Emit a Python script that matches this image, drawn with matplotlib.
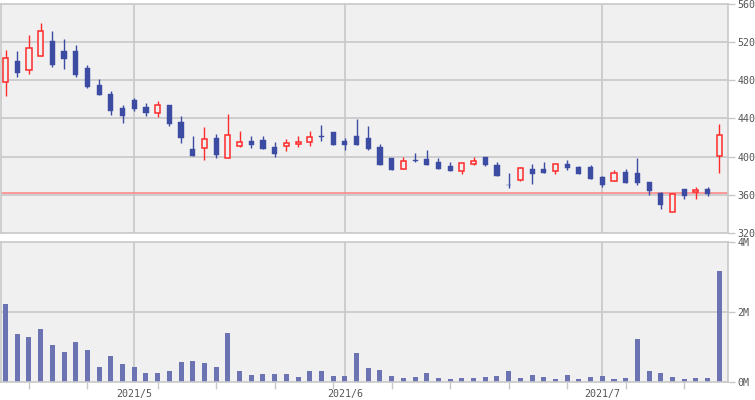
import matplotlib
matplotlib.use("Agg")
import matplotlib.pyplot as plt
import numpy as np
import pandas as pd

dates = pd.bdate_range("2021-04-15", "2021-07-15")
holidays = pd.to_datetime(["2021-04-29", "2021-05-03", "2021-05-04", "2021-05-05"])
dates = [d for d in dates if d not in holidays]

opens = [478.6, 500.4, 490.5, 505.3, 521.4, 510.9, 510.9, 493.0, 475.1, 465.6,
         450.9, 459.3, 451.9, 446.0, 454.0, 436.1, 407.7, 409.5, 419.3, 399.0,
         411.6, 416.1, 417.2, 409.8, 411.6, 413.3, 415.4, 421.8, 425.6, 416.1,
         421.4, 419.3, 409.8, 398.2, 387.0, 396.0, 397.2, 394.0, 389.8, 384.9,
         392.3, 399.3, 391.2, 370.6, 375.1, 387.0, 387.0, 385.3, 392.3, 389.1,
         389.1, 378.2, 374.7, 383.5, 382.5, 373.0, 361.4, 342.1, 365.6, 362.8,
         365.6, 401.0]
highs = [511.9, 510.9, 527.7, 540.0, 531.9, 523.5, 517.2, 496.1, 481.1, 468.4,
         454.0, 461.4, 456.1, 458.2, 454.0, 442.5, 421.4, 430.9, 423.5, 444.6,
         426.7, 421.4, 421.4, 415.1, 418.2, 421.4, 426.7, 433.0, 425.6, 420.0,
         439.3, 431.9, 413.0, 398.2, 399.3, 403.5, 406.7, 398.2, 394.0, 393.0,
         399.3, 399.3, 394.7, 382.8, 389.1, 391.9, 394.4, 391.9, 396.5, 390.2,
         391.2, 380.0, 386.3, 386.7, 398.2, 373.0, 362.5, 361.1, 365.6, 367.7,
         367.7, 434.0]
lows = [463.9, 483.9, 487.0, 505.3, 494.4, 492.3, 483.9, 472.3, 464.9, 443.9,
        435.4, 448.1, 442.5, 441.8, 432.3, 414.4, 400.4, 396.5, 398.6, 399.0,
        410.2, 409.1, 408.1, 399.6, 406.0, 410.2, 411.2, 416.5, 412.3, 407.0,
        412.3, 406.7, 390.9, 385.6, 387.0, 394.0, 390.9, 386.7, 384.6, 381.8,
        391.2, 389.8, 380.0, 367.4, 374.0, 371.2, 383.2, 382.1, 386.3, 382.1,
        376.5, 368.1, 374.7, 372.3, 370.2, 359.6, 345.6, 342.1, 356.1, 355.4,
        358.6, 382.8]
closes = [503.2, 488.1, 513.7, 531.6, 496.1, 502.8, 486.0, 473.3, 464.9, 448.1,
          442.8, 449.8, 445.6, 453.7, 434.4, 419.6, 400.4, 418.9, 401.8, 423.2,
          415.8, 412.3, 408.1, 402.8, 414.7, 415.8, 421.1, 421.0, 412.3, 412.3,
          412.3, 407.7, 390.9, 385.6, 395.8, 395.4, 390.9, 386.7, 384.6, 393.0,
          395.8, 391.2, 380.0, 370.0, 388.1, 381.8, 383.2, 391.9, 388.4, 382.1,
          376.5, 369.8, 383.2, 372.3, 372.3, 363.9, 349.1, 361.1, 358.6, 365.3,
          360.7, 423.2]
volumes_m = [2.24, 1.38, 1.29, 1.52, 1.06, 0.86, 1.15, 0.92, 0.43, 0.75,
             0.52, 0.43, 0.26, 0.26, 0.32, 0.57, 0.60, 0.55, 0.43, 1.41,
             0.32, 0.20, 0.23, 0.23, 0.23, 0.14, 0.32, 0.32, 0.17, 0.17,
             0.83, 0.40, 0.34, 0.17, 0.11, 0.14, 0.26, 0.11, 0.09, 0.11,
             0.11, 0.14, 0.17, 0.32, 0.11, 0.20, 0.14, 0.09, 0.20, 0.09,
             0.14, 0.17, 0.09, 0.11, 1.23, 0.32, 0.26, 0.14, 0.09, 0.11,
             0.11, 3.19]
ref_price = 362.0
price_ticks = [320, 360, 400, 440, 480, 520, 560]
vol_ticks = [0, 2, 4]
vol_labels = ["0M", "2M", "4M"]

UP = "#ff2b2b"
DOWN = "#3d4ca3"
VOLC = "#6b73b3"
BG = "#f0f0f0"
GRID = "#c8c8c8"
TXT = "#555555"
FONT = "DejaVu Sans Mono"

x = np.arange(len(dates))
o = np.array(opens); h = np.array(highs); l = np.array(lows); c = np.array(closes)
up = c >= o

fig = plt.figure(figsize=(7.55, 4.0), dpi=100)
fig.patch.set_facecolor("white")
ax = fig.add_axes([1/755, 1 - 233/400, 727.3/755, 229/400])
axv = fig.add_axes([1/755, 1 - 382/400, 727.3/755, 139.7/400])

xlim = (-0.39, 61.77)
month_idx = [i for i in range(1, len(dates)) if dates[i].month != dates[i-1].month]
monday_idx = [i for i in range(len(dates)) if dates[i].weekday() == 0]
month_labels = [f"{dates[i].year}/{dates[i].month}" for i in month_idx]

for a in (ax, axv):
    a.set_facecolor(BG)
    a.set_xlim(*xlim)
    for s in a.spines.values():
        s.set_color(GRID)
        s.set_linewidth(1.2)
    a.yaxis.tick_right()
    a.tick_params(axis="y", colors=GRID, labelcolor=TXT, length=5, width=1,
                  labelsize=7.2, pad=1.5)
    for i in month_idx:
        a.axvline(i, color=GRID, lw=1.2, zorder=0)

# price panel
ax.set_ylim(320, 560)
ax.set_yticks(price_ticks)
ax.set_yticklabels([str(t) for t in price_ticks], family=FONT)
for t in price_ticks[1:-1]:
    ax.axhline(t, color=GRID, lw=1.2, zorder=0)
ax.set_xticks([])
ax.axhline(ref_price, color="#ff8080", lw=1.1, zorder=1)

w = 0.44
ax.vlines(x[up], l[up], h[up], color=UP, lw=1.0, zorder=2)
ax.vlines(x[~up], l[~up], h[~up], color=DOWN, lw=1.0, zorder=2)
body_lo = np.minimum(o, c)
body_h = np.maximum(np.abs(c - o), 0.8)
ax.bar(x[up], body_h[up], bottom=body_lo[up], width=w, facecolor=BG,
       edgecolor=UP, linewidth=1.1, zorder=3)
ax.bar(x[~up], body_h[~up], bottom=body_lo[~up], width=w, facecolor=DOWN,
       edgecolor=DOWN, linewidth=0.3, zorder=3)

# volume panel
axv.set_ylim(0, 4)
axv.set_yticks(vol_ticks)
axv.set_yticklabels(vol_labels, family=FONT)
axv.axhline(2, color=GRID, lw=1.2, zorder=0)
axv.bar(x, volumes_m, width=0.43, color=VOLC, zorder=2)
axv.set_xticks(monday_idx)
axv.set_xticklabels([])
axv.set_xticks(month_idx, minor=True)
axv.set_xticklabels(month_labels, minor=True, family=FONT)
axv.tick_params(axis="x", which="major", colors=GRID, length=5, width=1)
axv.tick_params(axis="x", which="minor", length=0, labelcolor=TXT,
                labelsize=7.2, pad=5)

fig.savefig("out.png", dpi=100, facecolor="white")
